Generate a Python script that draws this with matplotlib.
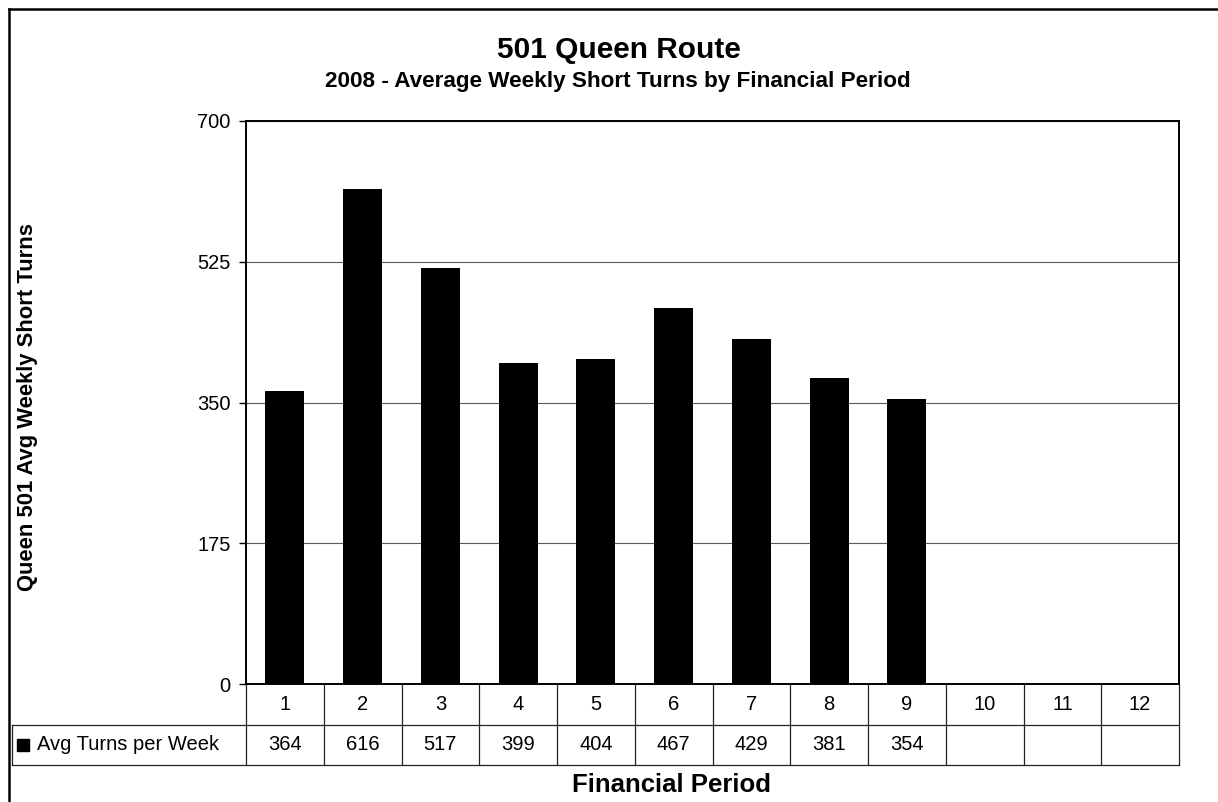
import matplotlib
matplotlib.use('Agg')
import matplotlib.pyplot as plt
from matplotlib.transforms import blended_transform_factory
from matplotlib.lines import Line2D
from matplotlib.patches import Rectangle

# ---- data ----
periods = ['1', '2', '3', '4', '5', '6', '7', '8', '9', '10', '11', '12']
values = [364, 616, 517, 399, 404, 467, 429, 381, 354]
series_name = 'Avg Turns per Week'
yticks = [0, 175, 350, 525, 700]
title = '501 Queen Route'
subtitle = '2008 - Average Weekly Short Turns by Financial Period'
ylabel = 'Queen 501 Avg Weekly Short Turns'
xlabel = 'Financial Period'

plt.rcParams['font.family'] = ['Liberation Sans', 'DejaVu Sans']

W, H = 1218, 802
fig = plt.figure(figsize=(W / 100, H / 100), dpi=100)
fig.patch.set_facecolor('white')

L, R, T, B = 246, 1179, 121, 684
ax = fig.add_axes([L / W, 1 - B / H, (R - L) / W, (B - T) / H])

ax.bar(range(len(values)), values, width=0.5, color='black', zorder=3)
ax.set_xlim(-0.5, len(periods) - 0.5)
ax.set_ylim(yticks[0], yticks[-1])
ax.set_yticks(yticks)
ax.set_xticks([])
ax.yaxis.grid(True, color='#5a5a5a', lw=0.8, zorder=0)
ax.set_axisbelow(True)
ax.tick_params(axis='y', length=5, width=1, direction='out', labelsize=14.5,
               pad=6, colors='black')
for s in ax.spines.values():
    s.set_color('black')
    s.set_linewidth(1.4)

# ---- data table ----
ah = B - T
r1 = -41 / ah
r2 = -81 / ah
tr = blended_transform_factory(ax.transData, ax.transAxes)
trf = blended_transform_factory(fig.transFigure, ax.transAxes)
lc = '#222222'
for i in range(len(periods) + 1):
    ax.add_line(Line2D([i - 0.5, i - 0.5], [0, r2], transform=tr, color=lc,
                       lw=0.9, clip_on=False))
for yy in (r1, r2):
    fig.add_artist(Line2D([12 / W, R / W], [yy, yy], transform=trf, color=lc, lw=0.9))
fig.add_artist(Line2D([12 / W, 12 / W], [r1, r2], transform=trf, color=lc, lw=0.9))

for i, p in enumerate(periods):
    ax.text(i, r1 / 2, p, transform=tr, ha='center', va='center',
            fontsize=14.5, clip_on=False)
for i, v in enumerate(values):
    ax.text(i, (r1 + r2) / 2, str(v), transform=tr, ha='center', va='center',
            fontsize=14.5, clip_on=False)

sq = 12
fig.add_artist(Rectangle((17 / W, (r1 + r2) / 2 - sq / 2 / ah), sq / W, sq / ah,
                         transform=trf, color='black'))
fig.text(37 / W, 0, series_name, transform=trf, fontsize=14.5,
         ha='left', va='center').set_y((r1 + r2) / 2)

# ---- titles ----
fig.text(619 / W, 1 - 58 / H, title, ha='center', va='baseline',
         fontsize=21.5, fontweight='bold')
fig.text(618 / W, 1 - 87 / H, subtitle, ha='center', va='baseline',
         fontsize=16.2, fontweight='bold')
fig.text(672 / W, 1 - 792 / H, xlabel, ha='center', va='baseline',
         fontsize=18.5, fontweight='bold')
fig.text(28 / W, 1 - 407 / H, ylabel, ha='center', va='center', rotation=90,
         fontsize=15.8, fontweight='bold')

# ---- outer frame ----
fig.add_artist(Line2D([9 / W, 9 / W], [0, 1 - 9 / H], transform=fig.transFigure,
                      color='black', lw=1.8))
fig.add_artist(Line2D([9 / W, 1], [1 - 9 / H, 1 - 9 / H], transform=fig.transFigure,
                      color='black', lw=1.8))

fig.savefig('out.png', dpi=100)
